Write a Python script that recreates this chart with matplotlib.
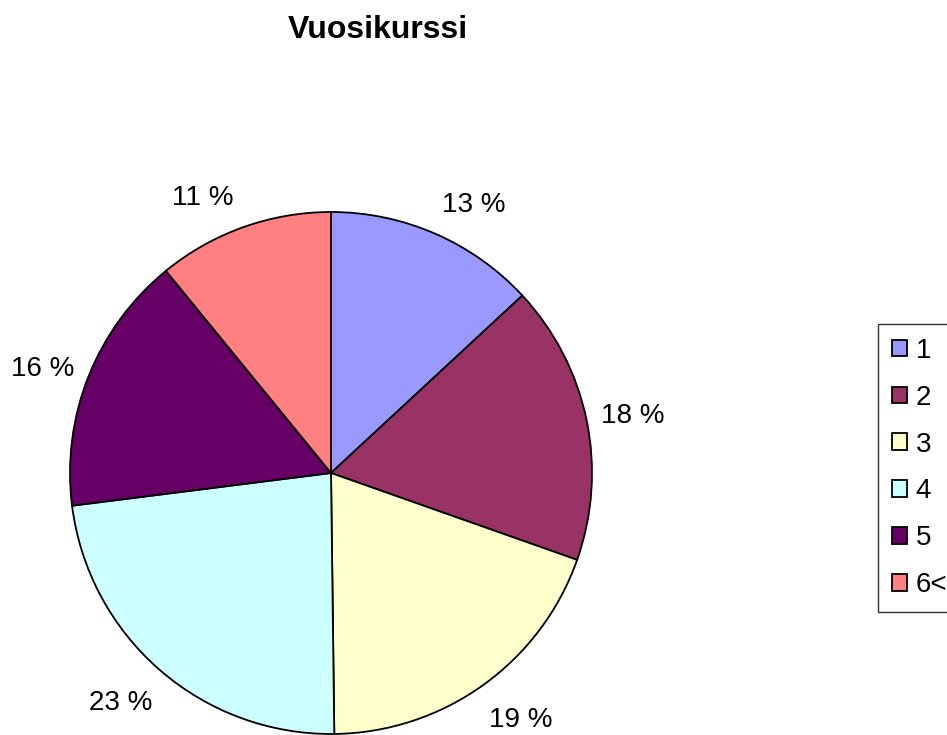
import numpy as np
import matplotlib.pyplot as plt
import matplotlib.transforms as mtransforms

# Data (slice sizes as drawn, labels as printed on the chart)
categories = ["1", "2", "3", "4", "5", "6<"]
shares = [13.1, 17.3, 19.4, 23.2, 16.1, 10.9]
pct_labels = ["13 %", "18 %", "19 %", "23 %", "16 %", "11 %"]
colors = ["#9999FF", "#993366", "#FFFFCC", "#CCFFFF", "#660066", "#FF8080"]

# small angular shifts of the labels (degrees), like Excel spreads them
label_nudge = [-4, 0, 2.5, -2, 1, 5]

plt.rcParams["font.family"] = ["Liberation Sans", "DejaVu Sans"]

W, H = 947, 735
fig = plt.figure(figsize=(W / 100, H / 100), dpi=100)

# Pie axes: centre (331, 473) px, radius 261 px
cx, cy, r = 331, 473, 261
ax = fig.add_axes([(cx - r) / W, (H - cy - r) / H, 2 * r / W, 2 * r / H])
wedges, _ = ax.pie(
    shares,
    colors=colors,
    startangle=90,
    counterclock=False,
    wedgeprops=dict(edgecolor="black", linewidth=1.3),
)
# labels sit a few pixels lower than matplotlib's centre alignment
shift = ax.transData + mtransforms.ScaledTranslation(0, -5 / 100, fig.dpi_scale_trans)
for w, lab, dn in zip(wedges, pct_labels, label_nudge):
    mid = np.deg2rad((w.theta1 + w.theta2) / 2 + dn)
    ax.text(1.18 * np.cos(mid), 1.18 * np.sin(mid), lab, fontsize=20,
            ha="center", va="center", transform=shift)
ax.set_xlim(-1, 1)
ax.set_ylim(-1, 1)
ax.set_aspect("equal")

fig.text(378 / W, 1 - 30 / H, "Vuosikurssi", ha="center", va="center",
         fontsize=23, fontweight="bold")

leg = fig.legend(
    wedges, categories,
    loc="upper left",
    bbox_to_anchor=(878 / W, 1 - 324 / H),
    frameon=True, fancybox=False, shadow=False,
    fontsize=20, labelspacing=0.75,
    handlelength=0.55, handleheight=0.55, handletextpad=0.3,
    borderpad=0.5, borderaxespad=0,
)
leg.get_frame().set_edgecolor("black")
leg.get_frame().set_linewidth(1.0)

fig.savefig("out.png", dpi=100)
